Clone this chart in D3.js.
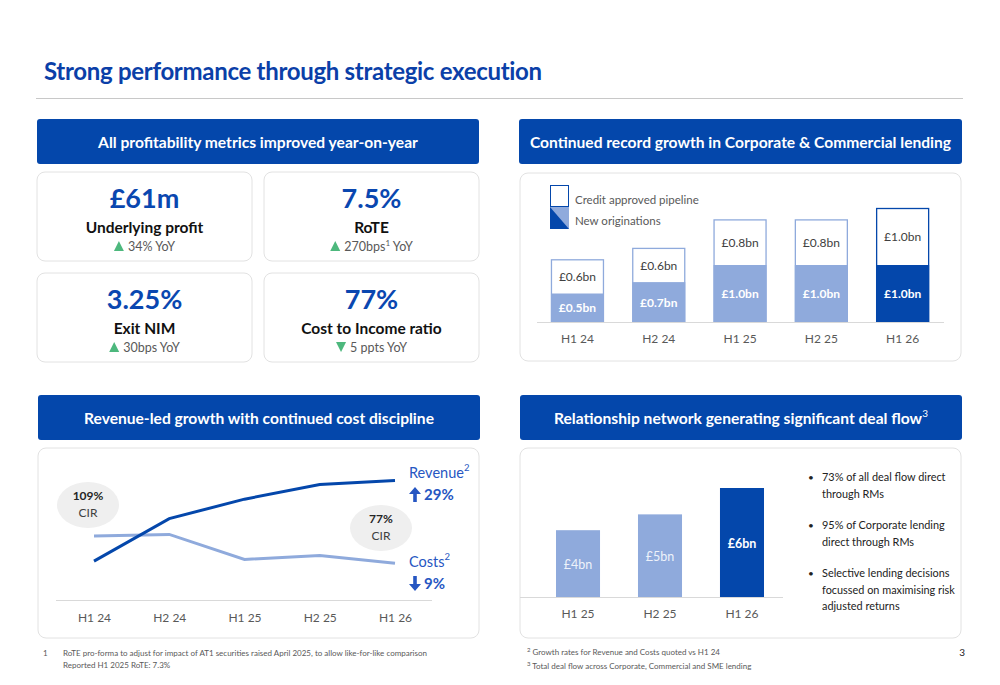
<!DOCTYPE html>
<html>
<head>
<meta charset="utf-8">
<script src="https://cdn.jsdelivr.net/npm/d3@7"></script>
<style>
  html, body { margin: 0; padding: 0; background: #fff; }
  svg { display: block; font-family: Lato, "Open Sans", sans-serif; }
</style>
</head>
<body>
<div id="slide"></div>
<script>
// ---- data ----
const kpiValues = ['£61m', '7.5%', '3.25%', '77%'];
const kpiNames = ['Underlying profit', 'RoTE', 'Exit NIM', 'Cost to Income ratio'];
const kpiChanges = ['34% YoY', '270bps¹ YoY', ' 30bps YoY', '5 ppts YoY'];
const kpiUp = [true, true, true, false];

const lendingPeriods = ['H1 24', 'H2 24', 'H1 25', 'H2 25', 'H1 26'];
const newOriginations = [0.5, 0.7, 1.0, 1.0, 1.0];
const creditPipeline = [0.6, 0.6, 0.8, 0.8, 1.0];

const trendPeriods = ['H1 24', 'H2 24', 'H1 25', 'H2 25', 'H1 26'];
const revenueIndex = [100, 115.3, 122.3, 127.6, 129];
const costsIndex = [109, 109.6, 100.6, 102, 99.2];
const cirLabels = ['109%', '77%'];

const dealPeriods = ['H1 25', 'H2 25', 'H1 26'];
const dealFlow = [3.8, 4.7, 6.2];
const dealLabels = ['£4bn', '£5bn', '£6bn'];

const bullets = [
  ['73% of all deal flow direct', 'through RMs'],
  ['95% of Corporate lending', 'direct through RMs'],
  ['Selective lending decisions', 'focussed on maximising risk', 'adjusted returns']
];

// ---- colours ----
const navy = '#0447AB';
const light = '#8FAADC';
const grey = '#595959';

const W = 1000, H = 685;
const svg = d3.select('#slide').append('svg').attr('width', W).attr('height', H);

// title
svg.append('text').attr('x', 44).attr('y', 80)
  .attr('font-size', 24).attr('font-weight', 700).attr('fill', '#0B3FA8')
  .attr('letter-spacing', -0.3)
  .text('Strong performance through strategic execution');
svg.append('line').attr('x1', 36).attr('x2', 963).attr('y1', 98.5).attr('y2', 98.5)
  .attr('stroke', '#c8c8c8');

function header(x, y, w, label, sup) {
  svg.append('rect').attr('x', x).attr('y', y).attr('width', w).attr('height', 45)
    .attr('rx', 3).attr('fill', navy);
  const t = svg.append('text').attr('x', x + w / 2).attr('y', y + 29)
    .attr('text-anchor', 'middle').attr('fill', '#fff')
    .attr('font-size', 15.6).attr('font-weight', 700).text(label);
  if (sup) t.append('tspan').attr('font-size', 10).attr('font-weight', 400)
    .attr('dy', -7).text(sup);
}
function panel(x, y, w, h) {
  svg.append('rect').attr('x', x).attr('y', y).attr('width', w).attr('height', h)
    .attr('rx', 8).attr('fill', '#fff').attr('stroke', '#e2e2e2');
}

header(37, 119, 442, 'All profitability metrics improved year-on-year');
header(519, 119, 443, 'Continued record growth in Corporate & Commercial lending');
header(38, 395, 442, 'Revenue-led growth with continued cost discipline');
header(520, 395, 442, 'Relationship network generating significant deal flow', '3');

// ---- KPI cards ----
const cardX = [37, 264, 37, 264];
const cardY = [172, 172, 273, 273];
kpiValues.forEach((v, i) => {
  const x = cardX[i], y = cardY[i], w = 215, h = 89;
  panel(x, y, w, h);
  const cx = x + w / 2;
  svg.append('text').attr('x', cx).attr('y', y + 36).attr('text-anchor', 'middle')
    .attr('font-size', 27).attr('font-weight', 700).attr('fill', '#0A47B0').text(v);
  svg.append('text').attr('x', cx).attr('y', y + 61).attr('text-anchor', 'middle')
    .attr('font-size', 15.5).attr('font-weight', 700).attr('fill', '#111').text(kpiNames[i]);
  const g = svg.append('g');
  const t = g.append('text').attr('y', y + 79).attr('font-size', 12.5).attr('fill', grey);
  const parts = kpiChanges[i].split('¹');
  t.append('tspan').text(parts[0]);
  if (parts.length > 1) {
    t.append('tspan').attr('font-size', 8).attr('dy', -5).text('1');
    t.append('tspan').attr('dy', 5).text(parts[1]);
  }
  const tw = t.node().getComputedTextLength();
  const start = cx - (tw + 14) / 2;
  t.attr('x', start + 14);
  const ty = y + 74;
  const tri = kpiUp[i]
    ? `M${start},${ty + 5} L${start + 10},${ty + 5} L${start + 5},${ty - 5} Z`
    : `M${start},${ty - 5} L${start + 10},${ty - 5} L${start + 5},${ty + 5} Z`;
  g.append('path').attr('d', tri).attr('fill', '#4DB87D');
});

// ---- lending stacked bars ----
panel(520, 173, 441, 188);
const xL = d3.scaleBand().domain(lendingPeriods).range([534.7, 945.4])
  .paddingInner(0.348).paddingOuter(0.2);
const yL = d3.scaleLinear().domain([0, 2]).range([322, 208]);
const lend = svg.append('g');
lendingPeriods.forEach((p, i) => {
  const last = i === lendingPeriods.length - 1;
  const fill = last ? navy : light;
  const x = xL(p), bw = xL.bandwidth();
  const o = newOriginations[i], c = creditPipeline[i];
  lend.append('rect').attr('x', x + 0.5).attr('y', yL(o + c) + 0.5)
    .attr('width', bw - 1).attr('height', yL(0) - yL(o + c) - 0.5)
    .attr('fill', '#fff').attr('stroke', fill).attr('stroke-width', 1.3);
  lend.append('rect').attr('x', x).attr('y', yL(o)).attr('width', bw)
    .attr('height', yL(0) - yL(o)).attr('fill', fill);
  lend.append('text').attr('x', x + bw / 2).attr('y', (yL(0) + yL(o)) / 2 + 4.5)
    .attr('text-anchor', 'middle').attr('fill', '#fff').attr('font-weight', 700)
    .attr('font-size', 12).text(`£${o.toFixed(1)}bn`);
  lend.append('text').attr('x', x + bw / 2).attr('y', (yL(o) + yL(o + c)) / 2 + 4.5)
    .attr('text-anchor', 'middle').attr('fill', '#404040')
    .attr('font-size', 12).text(`£${c.toFixed(1)}bn`);
});
svg.append('line').attr('x1', 537).attr('x2', 944).attr('y1', 322.5).attr('y2', 322.5)
  .attr('stroke', '#d9d9d9');
svg.append('g').attr('transform', 'translate(0,322)')
  .call(d3.axisBottom(xL).tickSize(0).tickPadding(12))
  .call(g => g.select('.domain').remove())
  .call(g => g.selectAll('text').attr('font-size', 12).attr('fill', grey)
    .attr('font-family', 'Lato, sans-serif'));

// legend
const lg = svg.append('g');
lg.append('rect').attr('x', 550.5).attr('y', 185.5).attr('width', 18).attr('height', 21)
  .attr('fill', '#fff').attr('stroke', navy).attr('stroke-width', 1);
lg.append('rect').attr('x', 550).attr('y', 207).attr('width', 19).attr('height', 22).attr('fill', light);
lg.append('path').attr('d', 'M550,207 L569,229 L550,229 Z').attr('fill', navy);
lg.append('text').attr('x', 575).attr('y', 204).attr('font-size', 11.5).attr('fill', grey)
  .text('Credit approved pipeline');
lg.append('text').attr('x', 575).attr('y', 225).attr('font-size', 11.5).attr('fill', grey)
  .text('New originations');

// ---- revenue / costs lines ----
panel(38, 448, 441, 190);
const xT = d3.scalePoint().domain(trendPeriods).range([94, 395]);
const yT = d3.scaleLinear().domain([86, 140]).range([600, 450]);
const line = d3.line().x((d, i) => xT(trendPeriods[i])).y(d => yT(d));
svg.append('line').attr('x1', 56).attr('x2', 432).attr('y1', 600.5).attr('y2', 600.5)
  .attr('stroke', '#d9d9d9');
svg.append('path').datum(costsIndex).attr('d', line).attr('fill', 'none')
  .attr('stroke', light).attr('stroke-width', 3);
svg.append('path').datum(revenueIndex).attr('d', line).attr('fill', 'none')
  .attr('stroke', navy).attr('stroke-width', 3);
svg.append('g').attr('transform', 'translate(0,600)')
  .call(d3.axisBottom(xT).tickSize(0).tickPadding(13))
  .call(g => g.select('.domain').remove())
  .call(g => g.selectAll('text').attr('font-size', 12).attr('fill', grey)
    .attr('font-family', 'Lato, sans-serif'));

// CIR bubbles
const bubbles = [[88, 505], [381, 528]];
bubbles.forEach(([bx, by], i) => {
  svg.append('ellipse').attr('cx', bx).attr('cy', by).attr('rx', 31).attr('ry', 23)
    .attr('fill', '#efefef');
  svg.append('text').attr('x', bx).attr('y', by - 5).attr('text-anchor', 'middle')
    .attr('font-size', 12).attr('font-weight', 700).attr('fill', '#262626').text(cirLabels[i]);
  svg.append('text').attr('x', bx).attr('y', by + 12).attr('text-anchor', 'middle')
    .attr('font-size', 12).attr('fill', '#404040').text('CIR');
});

// series labels
const lblBlue = '#2656C2';
function seriesLabel(y, name, pct, up) {
  const t = svg.append('text').attr('x', 409).attr('y', y).attr('font-size', 14.5)
    .attr('fill', lblBlue).text(name);
  t.append('tspan').attr('font-size', 9.5).attr('dy', -7).text('2');
  const ay = y + 22;
  const ax = 415;
  const arrow = up
    ? `M${ax},${ay - 13} L${ax + 6},${ay - 6} L${ax + 1.8},${ay - 6} L${ax + 1.8},${ay + 2} L${ax - 1.8},${ay + 2} L${ax - 1.8},${ay - 6} L${ax - 6},${ay - 6} Z`
    : `M${ax},${ay + 2} L${ax + 6},${ay - 5} L${ax + 1.8},${ay - 5} L${ax + 1.8},${ay - 13} L${ax - 1.8},${ay - 13} L${ax - 1.8},${ay - 5} L${ax - 6},${ay - 5} Z`;
  svg.append('path').attr('d', arrow).attr('fill', lblBlue);
  svg.append('text').attr('x', 424).attr('y', ay).attr('font-size', 15)
    .attr('font-weight', 700).attr('fill', lblBlue).text(pct);
}
seriesLabel(478, 'Revenue', '29%', true);
seriesLabel(567, 'Costs', '9%', false);

// ---- deal flow bars ----
panel(520, 448, 441, 190);
const xD = d3.scaleBand().domain(dealPeriods).range([523.2, 796.8])
  .paddingInner(0.463).paddingOuter(0.4);
const yD = d3.scaleLinear().domain([0, 6.2]).range([597, 488]);
dealPeriods.forEach((p, i) => {
  const last = i === dealPeriods.length - 1;
  const x = xD(p), bw = xD.bandwidth();
  svg.append('rect').attr('x', x).attr('y', yD(dealFlow[i])).attr('width', bw)
    .attr('height', yD(0) - yD(dealFlow[i])).attr('fill', last ? navy : light);
  svg.append('text').attr('x', x + bw / 2).attr('y', (yD(0) + yD(dealFlow[i])) / 2 + 5)
    .attr('text-anchor', 'middle').attr('font-size', 12.5)
    .attr('font-weight', last ? 700 : 400).attr('fill', last ? '#fff' : '#eef2fa')
    .text(dealLabels[i]);
});
svg.append('line').attr('x1', 520).attr('x2', 783).attr('y1', 597.5).attr('y2', 597.5)
  .attr('stroke', '#d9d9d9');
svg.append('g').attr('transform', 'translate(0,597)')
  .call(d3.axisBottom(xD).tickSize(0).tickPadding(12))
  .call(g => g.select('.domain').remove())
  .call(g => g.selectAll('text').attr('font-size', 12).attr('fill', grey)
    .attr('font-family', 'Lato, sans-serif'));

// bullets
const bulletY = [481, 529, 577];
bullets.forEach((lines, i) => {
  svg.append('text').attr('x', 808).attr('y', bulletY[i]).attr('font-size', 10)
    .attr('fill', '#222').text('•');
  lines.forEach((l, j) => {
    svg.append('text').attr('x', 822).attr('y', bulletY[i] + j * 16.5)
      .attr('font-size', 10.9).attr('fill', '#222').text(l);
  });
});

// ---- footnotes ----
const fn = svg.append('g').attr('font-size', 8).attr('fill', grey);
fn.append('text').attr('x', 43).attr('y', 656).text('1');
fn.append('text').attr('x', 63).attr('y', 656)
  .text('RoTE pro-forma to adjust for impact of AT1 securities raised April 2025, to allow like-for-like comparison');
fn.append('text').attr('x', 63).attr('y', 668).text('Reported H1 2025 RoTE: 7.3%');
const f2 = fn.append('text').attr('x', 527).attr('y', 655);
f2.append('tspan').attr('font-size', 6).attr('dy', -3).text('2');
f2.append('tspan').attr('dy', 3).text(' Growth rates for Revenue and Costs quoted vs H1 24');
const f3 = fn.append('text').attr('x', 527).attr('y', 669);
f3.append('tspan').attr('font-size', 6).attr('dy', -3).text('3');
f3.append('tspan').attr('dy', 3).text(' Total deal flow across Corporate, Commercial and SME lending');
svg.append('text').attr('x', 965).attr('y', 656).attr('text-anchor', 'end')
  .attr('font-size', 10).attr('fill', '#222').text('3');
</script>
</body>
</html>
